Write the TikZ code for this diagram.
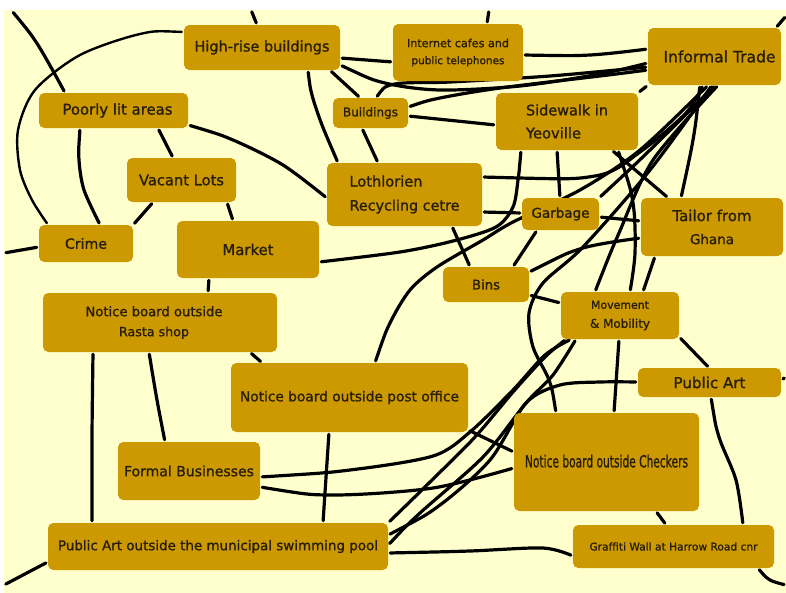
\documentclass[tikz,border=0pt]{standalone}
\usepackage{fontspec}
\setmainfont{DejaVu Sans}[FakeBold=1.2]
\usepackage{graphicx}
\usetikzlibrary{calc}
\pgfdeclarelayer{bg}
\pgfdeclarelayer{lines}
\pgfsetlayers{bg,lines,main}
\definecolor{cream}{RGB}{255,255,206}
\definecolor{boxc}{RGB}{204,153,0}
\definecolor{txtc}{RGB}{40,30,6}
\newcommand{\tw}[2]{\resizebox{#1pt}{!}{#2}}
\begin{document}
\begin{tikzpicture}[x=0.75pt,y=-0.75pt,
  box/.style={fill=boxc, rounded corners=4pt, inner sep=0pt, text=txtc, align=center},
  ln/.style={draw=black, line width=2.4pt, line cap=round, line join=round, shorten <=1.5pt, shorten >=1.5pt}]
\useasboundingbox (0,0) rectangle (786,593);
\begin{pgfonlayer}{bg}
\fill[white] (0,0) rectangle (786,593);
\fill[cream] (4,10) rectangle (786,593);
\end{pgfonlayer}

% boxes
\node[box, minimum width=117pt, minimum height=33.75pt] (hr) at (262,47.5) {\tw{101.25}{High-rise buildings}};
\node[box, minimum width=97.5pt, minimum height=42.75pt, font=\fontsize{8}{12.75}\selectfont] (ic) at (458,52.5) {\tw{76.5}{Internet cafes and}\\\tw{69.75}{public telephones}};
\node[box, minimum width=99.75pt, minimum height=42.75pt] (it) at (714.5,56.5) {\raisebox{-2.25pt}{\hspace*{7.5pt}\tw{84}{Informal Trade}}};
\node[box, minimum width=111.75pt, minimum height=26.25pt] (pl) at (113.5,110.5) {\hspace*{6pt}\tw{82.5}{Poorly lit areas}};
\node[box, minimum width=56.25pt, minimum height=22.5pt] (bu) at (370.5,113) {\tw{41.25}{Buildings}};
\node[box, minimum width=106.5pt, minimum height=42.75pt, align=left, font=\fontsize{8}{17.25}\selectfont] (sw) at (567,121.5) {\tw{61.5}{Sidewalk in}\\\tw{41.25}{Yeoville}};
\node[box, minimum width=81.75pt, minimum height=33pt] (vl) at (181.5,180) {\tw{63.75}{Vacant Lots}};
\node[box, minimum width=116.25pt, minimum height=47.25pt, align=left, font=\fontsize{8}{18}\selectfont] (lo) at (404.5,194.5) {\tw{54.75}{Lothlorien}\\\tw{82.5}{Recycling cetre}};
\node[box, minimum width=57.75pt, minimum height=24pt] (ga) at (560.5,214) {\raisebox{-1.5pt}{\tw{43.5}{Garbage}}};
\node[box, minimum width=106.5pt, minimum height=43.5pt, font=\fontsize{8}{17.25}\selectfont] (ta) at (712,227) {\tw{59.25}{Tailor from}\\\tw{33}{Ghana}};
\node[box, minimum width=70.5pt, minimum height=27.75pt] (cr) at (86,243.5) {\raisebox{-2pt}{\tw{31.5}{Crime}}};
\node[box, minimum width=106.5pt, minimum height=42.75pt] (ma) at (248,249.5) {\raisebox{-3.75pt}{\tw{38.25}{Market}}};
\node[box, minimum width=64.5pt, minimum height=26.25pt] (bi) at (486,284.5) {\raisebox{-1.5pt}{\tw{21}{Bins}}};
\node[box, minimum width=88.5pt, minimum height=35.25pt, font=\fontsize{8}{14.25}\selectfont] (mo) at (620,315.5) {\tw{43.5}{Movement}\\\tw{45}{\& Mobility}};
\node[box, minimum width=175.5pt, minimum height=44.25pt, font=\fontsize{8}{15}\selectfont] (ra) at (160,322.5) {\tw{102.75}{Notice board outside}\hspace*{9pt}\\\tw{52.5}{Rasta shop}\hspace*{9pt}};
\node[box, minimum width=177.75pt, minimum height=51.75pt] (po) at (349.5,397.5) {\tw{164.25}{Notice board outside post office}};
\node[box, minimum width=107.25pt, minimum height=21.75pt] (pa) at (709.5,382.5) {\tw{54}{Public Art}};
\node[box, minimum width=138.75pt, minimum height=73.5pt] (ch) at (606.5,462) {\raisebox{1.5pt}{\resizebox{122.25pt}{9.5pt}{Notice board outside Checkers}}};
\node[box, minimum width=106.5pt, minimum height=43.5pt] (fb) at (189,471) {\tw{97.5}{Formal Businesses}};
\node[box, minimum width=255pt, minimum height=35.25pt] (sp) at (218,546.5) {\tw{240}{Public Art outside the municipal swimming pool}};
\node[box, minimum width=150.75pt, minimum height=32.25pt] (gw) at (673.5,546.5) {\tw{126}{Graffiti Wall at Harrow Road cnr}};

% free ends at the edges
\coordinate (e1) at (12,11);
\coordinate (e3) at (251,10);
\coordinate (e9) at (4,253);
\coordinate (e15) at (489,10);
\coordinate (e21) at (786,16);
\coordinate (e38) at (786,377);
\coordinate (e41) at (786,585);
\coordinate (e43) at (4,585);

\begin{pgfonlayer}{lines}
% top left
\draw[ln] plot[smooth] coordinates {(e1) (38,45) (pl.north -| 65,0)};
\draw[ln, line width=1.8pt] plot[smooth] coordinates {(hr.west |- 0,32) (140,34) (80,55) (35,90) (18,130) (20,170) (32,200) (cr.north -| 48,0)};
\draw[ln] (e3) -- (hr.north -| 257,0);
\draw[ln] plot[smooth] coordinates {(pl.south -| 80,0) (79,160) (84,190) (cr.north -| 100,0)};
\draw[ln] (pl.south -| 158,0) -- (vl.north -| 173,0);
\draw[ln] plot[smooth] coordinates {(pl.east |- 0,125) (233,140) (283,165) (lo.west |- 0,198)};
\draw[ln] (vl.south -| 153,0) -- (cr.north east);
\draw[ln] (vl.south -| 227,0) -- (ma.north -| 233,0);
\draw[ln] (e9) -- (cr.west |- 0,247);
\draw[ln] (ma.south -| 209,0) -- (ra.north -| 208,0);
% high-rise, buildings, internet
\draw[ln] plot[smooth] coordinates {(hr.south -| 308,0) (312,95) (322,125) (lo.north -| 338,0)};
\draw[ln] (hr.south -| 330,0) -- (bu.north -| 360,0);
\draw[ln] (bu.south -| 362,0) -- (lo.north -| 378,0);
\draw[ln] (hr.east |- 0,58) -- (ic.west |- 0,62);
\draw[ln] (ic.north -| 487,0) -- (e15);
\draw[ln] plot[smooth] coordinates {(ic.east |- 0,55) (590,55) (it.west |- 0,49)};
\draw[ln] plot[smooth] coordinates {(hr.east |- 0,65) (385,83) (440,90) (520,86) (600,74) (it.west |- 0,63)};
\draw[ln] plot[smooth] coordinates {(bu.north -| 376,0) (395,84) (450,82) (550,76) (it.west |- 0,67)};
\draw[ln] plot[smooth] coordinates {(bu.east |- 0,107) (440,98) (500,88) (600,76) (it.west |- 0,70)};
\draw[ln] (bu.east |- 0,116) -- (sw.west |- 0,125);
\draw[ln] (it.north -| 776,0) -- (e21);
\draw[ln] (it.south west) -- (sw.north east);
% informal trade, sidewalk, garbage, tailor
\draw[ln] plot[smooth] coordinates {(it.south -| 700,0) (693,140) (ta.north -| 681,0)};
\draw[ln] plot[smooth] coordinates {(lo.east |- 0,177) (595,176) (640,152) (686,113) (it.south -| 703,0)};
\draw[ln] (lo.east |- 0,212) -- (ga.west |- 0,213);
\draw[ln] (lo.south -| 452,0) -- (bi.north -| 470,0);
\draw[ln] plot[smooth] coordinates {(sw.south -| 521,0) (518,180) (513,207) (496,227) (453,241) (400,252) (ma.east |- 0,262)};
\draw[ln] (sw.south -| 557,0) -- (ga.north -| 560,0);
\draw[ln] (sw.south -| 612,0) -- (ta.north -| 668,0);
\draw[ln] plot[smooth] coordinates {(sw.south -| 618,0) (633,203) (635,253) (mo.north -| 630,0)};
\draw[ln] (ga.east |- 0,217) -- (ta.west |- 0,221);
\draw[ln] (ta.south -| 655,0) -- (mo.north -| 643,0);
\draw[ln] plot[smooth] coordinates {(bi.east |- 0,272) (583,248) (ta.west |- 0,238)};
\draw[ln] (ga.south -| 537,0) -- (bi.north -| 513,0);
\draw[ln] (bi.east |- 0,295) -- (mo.west |- 0,303);
\draw[ln] (mo.east |- 0,337) -- (pa.north -| 709,0);
\draw[ln] (mo.south -| 619,0) -- (ch.north -| 614,0);
\draw[ln] (pa.east |- 0,380) -- (e38);
\draw[ln] plot[smooth] coordinates {(pa.south -| 711,0) (719,437) (736,480) (gw.north -| 743,0)};
\draw[ln] (ch.south -| 656,0) -- (gw.north -| 666,0);
\draw[ln] plot[smooth] coordinates {(gw.south -| 758,0) (770,580) (e41)};
\draw[ln] plot[smooth] coordinates {(sp.east |- 0,553) (470,551) (543,548) (gw.west |- 0,556)};
\draw[ln] (sp.west |- 0,562) -- (e43);
% left lower
\draw[ln] plot[smooth] coordinates {(ra.south -| 93,0) (92,440) (sp.north -| 92,0)};
\draw[ln] plot[smooth] coordinates {(ra.south -| 149,0) (157,400) (fb.north -| 165,0)};
\draw[ln] (ra.south -| 250,0) -- (po.north -| 262,0);
\draw[ln] (po.south -| 329,0) -- (sp.north -| 323,0);
\draw[ln] plot[smooth] coordinates {(fb.east |- 0,477) (350,470) (433,456) (470,432) (513,390) (545,355) (mo.south -| 571,0)};
\draw[ln] plot[smooth] coordinates {(fb.east |- 0,487) (333,495) (433,488) (ch.west |- 0,468)};
\draw[ln] (po.east |- 0,430) -- (ch.west |- 0,452);
% the diagonal bundle
\draw[ln] plot[smooth] coordinates {(sp.north east) (430,482) (475,437) (513,392) (545,357) (mo.south -| 566,0)};
\draw[ln] plot[smooth] coordinates {(sp.east |- 0,535) (440,505) (490,460) (526,403) (560,385) (600,382) (pa.west |- 0,382)};
\draw[ln] plot[smooth] coordinates {(sp.east |- 0,545) (420,513) (483,457) (526,403) (553,375) (mo.south -| 576,0)};
\draw[ln] plot[smooth] coordinates {(ch.north -| 556,0) (549,380) (533,347) (529,313) (543,283) (583,247) (650,170) (it.south -| 712,0)};
\draw[ln] plot[smooth] coordinates {(po.north -| 375,0) (390,323) (410,290) (437,267) (483,240) (513,222) (580,190) (640,150) (it.south -| 708,0)};
\draw[ln] plot[smooth] coordinates {(mo.north -| 595,0) (619,233) (653,160) (it.south -| 718,0)};
\draw[ln] plot[smooth] coordinates {(ga.north east) (650,150) (it.south -| 715,0)};
\end{pgfonlayer}
\end{tikzpicture}
\end{document}
